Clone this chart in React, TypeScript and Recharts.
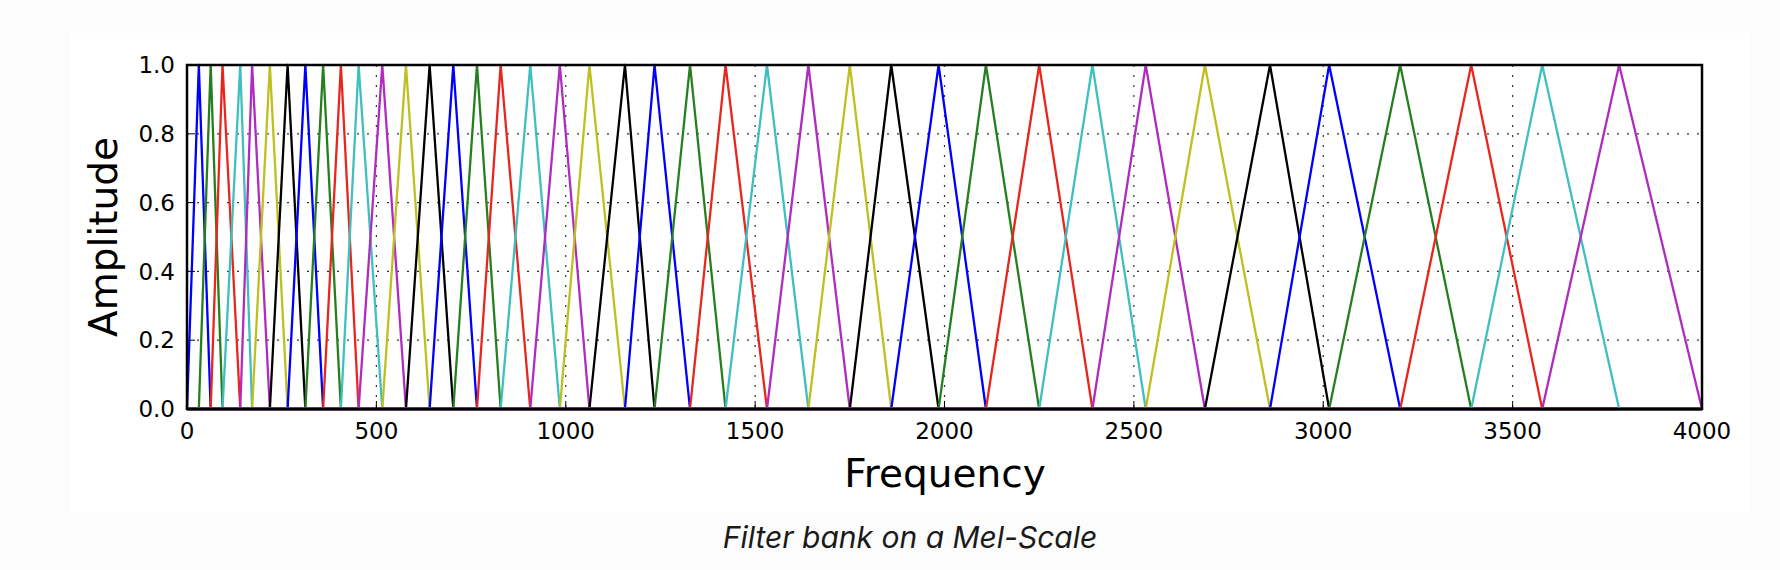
// Mel-scale filter bank: 40 triangular filters over 0–4000 Hz.
import { LineChart, Line, XAxis, YAxis, CartesianGrid } from "recharts";

// Filter edge frequencies (Hz): filter i rises from
// edge[i-1] to a peak at edge[i] and falls back to 0 at edge[i+1].
const filterEdges = [
  0, 31.25, 62.5, 93.75, 140.6, 171.9, 218.8, 265.6, 312.5, 359.4, 406.3,
  453.1, 515.6, 578.1, 640.6, 703.1, 765.6, 828.1, 906.3, 984.4, 1062.5,
  1156.3, 1234.4, 1328.1, 1421.9, 1531.3, 1640.6, 1750, 1859.4, 1984.4,
  2109.4, 2250, 2390.6, 2531.3, 2687.5, 2859.4, 3015.6, 3203.1, 3390.6,
  3578.1, 3781.3, 4000,
];

// matplotlib "classic" colour cycle: b g r c m y k
const cycleColors = ["#0000ff", "#267f1f", "#e8261e", "#3fbfbf", "#b02cc0", "#bfbf1f", "#000000"];

const xTicks = [0, 500, 1000, 1500, 2000, 2500, 3000, 3500, 4000];
const yTicks = [0, 0.2, 0.4, 0.6, 0.8, 1.0];

const freqMin = 0;
const freqMax = 4000;

// each filter: zero outside its support, 1.0 at its centre
const filters = filterEdges.slice(1, -1).map((center, i) => ({
  id: i + 1,
  color: cycleColors[i % cycleColors.length],
  points: [
    { x: freqMin, y: 0 },
    { x: filterEdges[i], y: 0 },
    { x: center, y: 1 },
    { x: filterEdges[i + 2], y: 0 },
    { x: freqMax, y: 0 },
  ],
}));

const tickFont = { fontSize: 23, fill: "#000", fontFamily: "DejaVu Sans" };

const App = () => {
  return (
    <div
      style={{
        position: "absolute",
        left: 0,
        top: 0,
        width: 1780,
        height: 570,
        background: "#fcfcfc",
        overflow: "hidden",
      }}
    >
      {/* white figure panel */}
      <div style={{ position: "absolute", left: 70, top: 33, width: 1680, height: 479, background: "#fff" }}>
        <LineChart
          width={1680}
          height={479}
          margin={{ top: 32, right: 48, bottom: 43, left: 57 }}
        >
          <CartesianGrid stroke="#333" strokeWidth={1.2} strokeDasharray="2 8" />
          <XAxis
            xAxisId={0}
            dataKey="x"
            type="number"
            domain={[freqMin, freqMax]}
            ticks={xTicks}
            interval={0}
            height={60}
            axisLine={false}
            tickSize={-8}
            tickMargin={22}
            tickLine={{ stroke: "#000", strokeWidth: 1 }}
            tick={tickFont}
          />
          <XAxis
            xAxisId="top"
            orientation="top"
            dataKey="x"
            type="number"
            domain={[freqMin, freqMax]}
            ticks={xTicks}
            interval={0}
            height={0}
            axisLine={false}
            tickSize={-8}
            tickLine={{ stroke: "#000", strokeWidth: 1 }}
            tick={false}
          />
          <YAxis
            yAxisId={0}
            type="number"
            domain={[0, 1]}
            ticks={yTicks}
            interval={0}
            width={60}
            axisLine={false}
            tickSize={-8}
            tickMargin={20}
            tickLine={{ stroke: "#000", strokeWidth: 1 }}
            tick={tickFont}
            tickFormatter={(v: number) => v.toFixed(1)}
          />
          <YAxis
            yAxisId="right"
            orientation="right"
            type="number"
            domain={[0, 1]}
            ticks={yTicks}
            interval={0}
            width={0}
            axisLine={false}
            tickSize={-8}
            tickLine={{ stroke: "#000", strokeWidth: 1 }}
            tick={false}
          />
          {filters.map((f) => (
            <Line
              key={f.id}
              data={f.points}
              dataKey="y"
              xAxisId={0}
              yAxisId={0}
              type="linear"
              stroke={f.color}
              strokeWidth={2.3}
              strokeLinejoin="round"
              dot={false}
              activeDot={false}
              isAnimationActive={false}
            />
          ))}
        </LineChart>
      </div>

      {/* frame, axis titles and caption */}
      <svg
        width={1780}
        height={570}
        style={{ position: "absolute", left: 0, top: 0, pointerEvents: "none" }}
      >
        <rect x={187} y={65} width={1515} height={344} fill="none" stroke="#000" strokeWidth={2.5} />
        <text
          x={117}
          y={237}
          transform="rotate(-90 117 237)"
          textAnchor="middle"
          fontFamily="DejaVu Sans"
          fontSize={39}
          fill="#000"
        >
          Amplitude
        </text>
        <text x={945} y={487} textAnchor="middle" fontFamily="DejaVu Sans" fontSize={39} fill="#000">
          Frequency
        </text>
        <text
          x={910}
          y={548}
          textAnchor="middle"
          fontFamily="Inter"
          fontStyle="italic"
          fontSize={30}
          fill="#1a1a1a"
        >
          Filter bank on a Mel-Scale
        </text>
      </svg>
    </div>
  );
};

export default App;
